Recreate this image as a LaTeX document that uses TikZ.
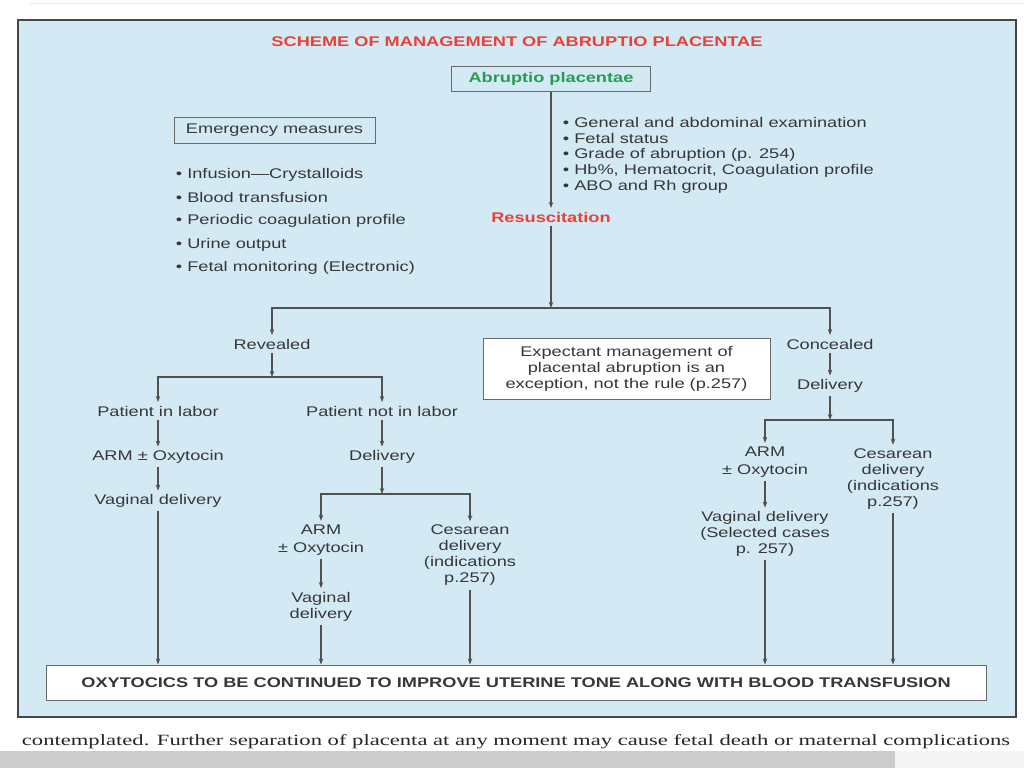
\documentclass[tikz,border=0pt]{standalone}
\usepackage{fontspec}
\usepackage{graphicx}
\newfontfamily\bodyfont[FakeStretch=1.3]{Liberation Sans}
\newfontfamily\capfont{Liberation Serif}
\usetikzlibrary{arrows.meta}
\definecolor{panelblue}{RGB}{211,234,245}
\definecolor{bordergray}{RGB}{70,70,70}
\definecolor{boxgray}{RGB}{105,105,105}
\definecolor{linegray}{RGB}{80,80,80}
\definecolor{textgray}{RGB}{55,55,55}
\definecolor{titlered}{RGB}{232,66,56}
\definecolor{abrgreen}{RGB}{40,155,80}
\definecolor{bargray}{RGB}{204,204,204}

\begin{document}
\begin{tikzpicture}[x=1pt, y=-1pt, line width=1.1pt,
    every node/.style={text=textgray, font=\bodyfont\fontsize{14pt}{16pt}\selectfont},
    head/.style={font=\bodyfont\bfseries\fontsize{14pt}{16pt}\selectfont, text=titlered},
    main box/.style={draw=boxgray, line width=1pt, inner sep=0pt},
    stack/.style={align=center},
    item/.style={anchor=base west},
    link/.style={draw=linegray, -{Stealth[length=6pt, width=4.5pt]}}]

    % Page and panel
    \useasboundingbox (0,0) rectangle (1024,768);
    \fill[white] (0,0) rectangle (1024,768);
    \draw[gray!18, line width=0.8pt] (30,3) -- (1024,3);
    \draw[draw=bordergray, line width=2pt, fill=panelblue] (18,20) rectangle (1016,717);
    \fill[bargray] (0,751) rectangle (895,768);
    \fill[gray!8] (895,751) rectangle (1024,768);

    % Title and first steps
    \node[head] (title) at (517,42) {SCHEME OF MANAGEMENT OF ABRUPTIO PLACENTAE};
    \node[main box, fill=panelblue, minimum width=199pt, minimum height=25pt,
          font=\bodyfont\bfseries\fontsize{14pt}{16pt}\selectfont, text=abrgreen] (abr) at (551,78.5) {Abruptio placentae};
    \node[head] (resus) at (551,217) {Resuscitation};
    \draw[link] (abr) -- (resus);

    \node[item] (ex1) at (559,127) {• General and abdominal examination};
    \node[item] (ex2) at (559,143) {• Fetal status};
    \node[item] (ex3) at (559,158) {• Grade of abruption (p. 254)};
    \node[item] (ex4) at (559,174) {• Hb\%, Hematocrit, Coagulation profile};
    \node[item] (ex5) at (559,190) {• ABO and Rh group};

    % Emergency measures
    \node[main box, fill=panelblue, minimum width=201pt, minimum height=26pt] (emerg) at (274.5,130) {Emergency measures};
    \node[item] (em1) at (172,178) {• Infusion—Crystalloids};
    \node[item] (em2) at (172,202) {• Blood transfusion};
    \node[item] (em3) at (172,224) {• Periodic coagulation profile};
    \node[item] (em4) at (172,248) {• Urine output};
    \node[item] (em5) at (172,271) {• Fetal monitoring (Electronic)};

    % Revealed or concealed
    \coordinate (s1) at (551,308);
    \node (rev) at (272,344) {Revealed};
    \node (conc) at (830,344) {Concealed};
    \draw[link] (resus) -- (s1);
    \draw[link] (s1) -| (rev);
    \draw[link] (s1) -| (conc);

    \node[main box, fill=white, minimum width=287pt, minimum height=61pt, align=center] (expect) at (626.5,368.5)
        {Expectant management of\\placental abruption is an\\exception, not the rule (p.257)};

    % Revealed branch
    \coordinate (s2) at (272,377);
    \node (pil) at (158,411) {Patient in labor};
    \node (pnil) at (382,411) {Patient not in labor};
    \draw[link] (rev) -- (s2);
    \draw[link] (s2) -| (pil);
    \draw[link] (s2) -| (pnil);

    \node (arm1) at (158,457) {ARM ± Oxytocin};
    \node (vag1) at (158,501) {Vaginal delivery};
    \draw[link] (pil) -- (arm1);
    \draw[link] (arm1) -- (vag1);

    \node (del1) at (382,457) {Delivery};
    \draw[link] (pnil) -- (del1);
    \coordinate (s3) at (382,494);
    \node[stack] (arm2) at (321,540) {ARM\\[2pt]± Oxytocin};
    \node[stack] (ces1) at (470,555.5) {Cesarean\\delivery\\(indications\\p.257)};
    \draw[link] (del1) -- (s3);
    \draw[link] (s3) -| (arm2);
    \draw[link] (s3) -| (ces1);
    \node[stack] (vag2) at (321,606.5) {Vaginal\\delivery};
    \draw[link] (arm2) -- (vag2);

    % Concealed branch
    \node (del2) at (830,386) {Delivery};
    \draw[link] (conc) -- (del2);
    \coordinate (s4) at (830,420);
    \node[stack] (arm3) at (765,462) {ARM\\[2pt]± Oxytocin};
    \node[stack] (ces2) at (893,479) {Cesarean\\delivery\\(indications\\p.257)};
    \draw[link] (del2) -- (s4);
    \draw[link] (s4) -| (arm3);
    \draw[link] (s4) -| (ces2);
    \node[stack] (vag3) at (765,534) {Vaginal delivery\\(Selected cases\\p. 257)};
    \draw[link] (arm3) -- (vag3);

    % Common end
    \node[main box, fill=white, minimum width=940pt, minimum height=35pt,
          font=\bodyfont\bfseries\fontsize{14pt}{16pt}\selectfont] (final) at (516,682.5)
        {OXYTOCICS TO BE CONTINUED TO IMPROVE UTERINE TONE ALONG WITH BLOOD TRANSFUSION};
    \draw[link] (vag1) -- (vag1 |- final.north);
    \draw[link] (vag2) -- (vag2 |- final.north);
    \draw[link] (ces1) -- (ces1 |- final.north);
    \draw[link] (vag3) -- (vag3 |- final.north);
    \draw[link] (ces2) -- (ces2 |- final.north);

    % Text under the panel
    \node[anchor=base, font=\capfont, text=black!85] (note) at (516,745)
        {\resizebox{988pt}{11pt}{contemplated. Further separation of placenta at any moment may cause fetal death or maternal complications}};

\end{tikzpicture}
\end{document}
